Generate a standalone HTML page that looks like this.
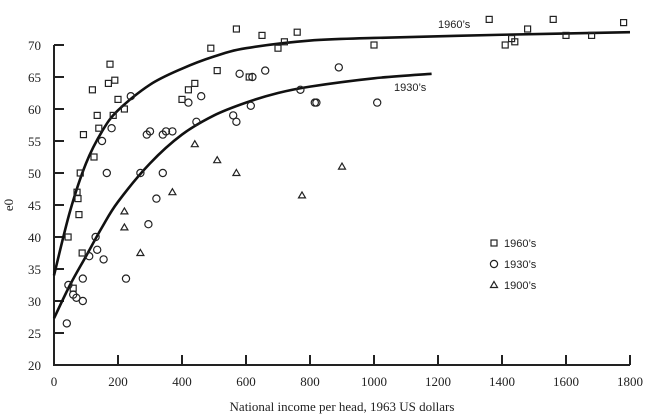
<!DOCTYPE html>
<html><head><meta charset="utf-8"><style>
body{margin:0;background:#fff;}
svg{display:block;}
text{font-family:"Liberation Serif",serif;fill:#222;}
.s{font-family:"Liberation Sans",sans-serif;}
</style></head><body>
<svg id="chart" width="645" height="415"></svg>
<script>
const xTicks=[0,200,400,600,800,1000,1200,1400,1600,1800];
const yTicks=[20,25,30,35,40,45,50,55,60,65,70];
const s1960x=[44,60,72,75,78,82,88,92,120,125,135,140,175,170,190,200,185,220,400,420,440,490,510,570,610,650,700,720,760,1000,1360,1410,1430,1440,1480,1560,1600,1680,1780];
const s1960y=[40,32,47,46,43.5,50,37.5,56,63,52.5,59,57,67,64,64.5,61.5,59,60,61.5,63,64,69.5,66,72.5,65,71.5,69.5,70.5,72,70,74,70,71,70.5,72.5,74,71.5,71.5,73.5];
const s1930x=[40,45,60,70,90,90,110,130,135,155,150,165,180,240,225,270,290,295,300,320,340,340,350,370,420,445,460,560,570,580,615,620,660,770,815,820,890,1010];
const s1930y=[26.5,32.5,31,30.5,30,33.5,37,40,38,36.5,55,50,57,62,33.5,50,56,42,56.5,46,50,56,56.5,56.5,61,58,62,59,58,65.5,60.5,65,66,63,61,61,66.5,61];
const s1900x=[220,220,270,370,440,510,570,775,900];
const s1900y=[44,41.5,37.5,47,54.5,52,50,46.5,51];
const c1960x=[0,50,100,150,200,300,400,500,600,800,1000,1400,1800];
const c1960y=[34,44,51.5,56.5,59.8,63.8,66.3,68.2,69.5,70.7,71.1,71.6,72];
const c1930x=[0,50,100,150,200,300,400,500,600,700,800,1000,1180];
const c1930y=[27.3,32.5,37,41.5,45.5,51.5,56,59,61,62.5,63.5,64.8,65.5];
const NS="http://www.w3.org/2000/svg";
const svg=document.getElementById('chart');
const X=v=>54+v*0.32, Y=v=>365-(v-20)*6.4;
function el(t,a,p){const e=document.createElementNS(NS,t);for(const k in a)e.setAttribute(k,a[k]);(p||svg).appendChild(e);return e;}
let ax=el('path',{d:`M54 ${Y(70)}V365H630`,stroke:'#222','stroke-width':2,fill:'none'});


xTicks.forEach(v=>{
 if(v>0){let t=el('line',{x1:X(v),x2:X(v),y1:365,y2:355,stroke:'#222','stroke-width':2});
 
 }
 let l=el('text',{x:X(v),y:386,'text-anchor':'middle','font-size':13});l.textContent=v;
 
 
});
yTicks.forEach(v=>{
 if(v>20){let t=el('line',{x1:54,x2:64,y1:Y(v),y2:Y(v),stroke:'#222','stroke-width':2});
 
 }
 let l=el('text',{x:41,y:Y(v)+5,'text-anchor':'end','font-size':13});l.textContent=v;
 
 
});
function curve(xs,ys){
 const p=xs.map((x,i)=>[X(x),Y(ys[i])]);let d=`M${p[0][0]} ${p[0][1]}`;
 for(let i=0;i<p.length-1;i++){const p0=p[i-1]||p[i],p1=p[i],p2=p[i+1],p3=p[i+2]||p2;
 d+=`C${p1[0]+(p2[0]-p0[0])/6} ${p1[1]+(p2[1]-p0[1])/6} ${p2[0]-(p3[0]-p1[0])/6} ${p2[1]-(p3[1]-p1[1])/6} ${p2[0]} ${p2[1]}`;}
 return d;}
let k1=el('path',{d:curve(c1960x,c1960y),stroke:'#111','stroke-width':2.6,fill:'none'});


let k2=el('path',{d:curve(c1930x,c1930y),stroke:'#111','stroke-width':2.6,fill:'none'});


function sq(x,y){return el('rect',{x:x-3,y:y-3,width:6,height:6,fill:'none',stroke:'#222','stroke-width':1.2});}
function ci(x,y){return el('circle',{cx:x,cy:y,r:3.6,fill:'none',stroke:'#222','stroke-width':1.2});}
function tr(x,y){return el('path',{d:`M${x} ${y-3.5}L${x+3.5} ${y+2.5}L${x-3.5} ${y+2.5}Z`,fill:'none',stroke:'#222','stroke-width':1.2});}
s1960x.forEach((v,i)=>{const m=sq(X(v),Y(s1960y[i]));
 
 });
s1930x.forEach((v,i)=>{const m=ci(X(v),Y(s1930y[i]));
 
 });
s1900x.forEach((v,i)=>{const m=tr(X(v),Y(s1900y[i]));
 
 });
function txt(x,y,s,sz,name,cls){const t=el('text',{x:x,y:y,'font-size':sz});if(cls)t.setAttribute('class',cls);t.textContent=s;
 
 return t;}
txt(438,28,"1960’s",11,'label-1960s','s');
txt(394,91,"1930’s",11,'label-1930s','s');
const leg=[["1960’s",sq],["1930’s",ci],["1900’s",tr]];
leg.forEach((l,i)=>{const y=247+i*21;const m=l[1](494,y-4);
 
 
 txt(504,y,l[0],11,'legend-entry','s');});
txt(342,411,"National income per head, 1963 US dollars",13,'x-axis-title').setAttribute('text-anchor','middle');
const yt=txt(0,0,"e0",13,'y-axis-title');yt.setAttribute('transform','translate(13,205) rotate(-90)');yt.setAttribute('text-anchor','middle');
</script>
</body></html>
